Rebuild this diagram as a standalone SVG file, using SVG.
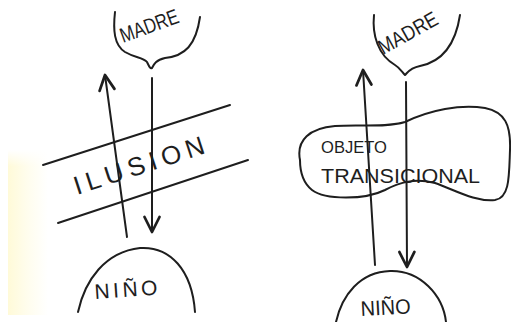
<svg xmlns="http://www.w3.org/2000/svg" width="511" height="322" viewBox="0 0 511 322">
<defs>
<linearGradient id="yel" x1="0" y1="0" x2="1" y2="0">
<stop offset="0" stop-color="#fffad8"/>
<stop offset="0.5" stop-color="#fffdee"/>
<stop offset="1" stop-color="#ffffff"/>
</linearGradient>
<linearGradient id="yelv" x1="0" y1="0" x2="0" y2="1">
<stop offset="0" stop-color="#ffffff" stop-opacity="1"/>
<stop offset="0.1" stop-color="#ffffff" stop-opacity="0"/>
</linearGradient>
<marker id="ah" markerUnits="userSpaceOnUse" markerWidth="20" markerHeight="20" viewBox="-14 -8 16 16" refX="0" refY="0" orient="auto">
<path d="M -12 -6 L 0 0 L -12 6" fill="none" stroke="#1e1e1e" stroke-width="2.2" stroke-linecap="round" stroke-linejoin="round"/>
</marker>
<style>
.ln{fill:none;stroke:#1e1e1e;stroke-width:2;stroke-linecap:round;stroke-linejoin:round}
.tx{font-family:"Liberation Sans",Arial,sans-serif;fill:#1e1e1e}
</style>
</defs>
<rect width="511" height="322" fill="#ffffff"/>
<rect x="8" y="150" width="40" height="165" fill="url(#yel)"/>
<rect x="8" y="150" width="40" height="165" fill="url(#yelv)"/>

<g id="madre-left">
<path class="ln" d="M 115 12 C 113 30, 114 45, 125 52 C 135 58, 143 57, 147 62 C 149 66, 150 69, 152 68 C 154 64, 156 60, 165 58 C 185 56, 196 45, 200 17"/>
<text class="tx" x="123" y="43" font-size="21" textLength="61" lengthAdjust="spacingAndGlyphs" transform="rotate(-20 123 43)">MADRE</text>
</g>

<g id="ilusion">
<path class="ln" d="M 43 165 L 230 105"/>
<path class="ln" d="M 58 223 L 248 160"/>
<text class="tx" x="77" y="195" font-size="26" textLength="136" lengthAdjust="spacing" transform="rotate(-18 77 195)">ILUSION</text>
</g>

<g id="nino-left">
<path class="ln" d="M 78 312 C 85 280, 105 252, 140 248 C 170 246, 192 270, 195 312"/>
<text class="tx" x="95" y="299" font-size="21" textLength="63" lengthAdjust="spacing" transform="rotate(-4 95 299)">NIÑO</text>
</g>

<g id="madre-right">
<path class="ln" d="M 374 15 C 372 35, 378 55, 395 65 C 400 68, 402 72, 405 75 C 408 72, 410 68, 420 66 C 440 62, 455 48, 460 15"/>
<text class="tx" x="383" y="55" font-size="21" textLength="65" lengthAdjust="spacingAndGlyphs" transform="rotate(-29 383 55)">MADRE</text>
</g>

<g id="objeto-transicional">
<path class="ln" d="M 300 160 C 296 140, 310 128, 335 126 C 360 124, 385 128, 405 122 C 430 110, 460 104, 485 108 C 505 112, 511 125, 510 150 C 509 175, 510 198, 495 200 C 475 202, 455 190, 435 183 C 415 178, 400 182, 385 190 C 365 200, 325 200, 312 190 C 302 182, 300 170, 300 160 Z"/>
<text class="tx" x="321" y="153" font-size="17" textLength="66" lengthAdjust="spacingAndGlyphs">OBJETO</text>
<text class="tx" x="321" y="183" font-size="20" textLength="159" lengthAdjust="spacingAndGlyphs">TRANSICIONAL</text>
</g>

<g id="nino-right">
<path class="ln" d="M 336 322 C 342 295, 360 272, 390 271 C 420 270, 443 295, 446 322"/>
<text class="tx" x="361" y="316" font-size="21" textLength="50" lengthAdjust="spacingAndGlyphs" transform="rotate(-3 361 316)">NIÑO</text>
</g>

<g id="connectors">
<path class="ln" d="M 127 237 L 105 75" marker-end="url(#ah)"/>
<path class="ln" d="M 152 78 L 152 232" marker-end="url(#ah)"/>
<path class="ln" d="M 375 265 L 363 70" marker-end="url(#ah)"/>
<path class="ln" d="M 406 82 L 407 267" marker-end="url(#ah)"/>
</g>
</svg>
